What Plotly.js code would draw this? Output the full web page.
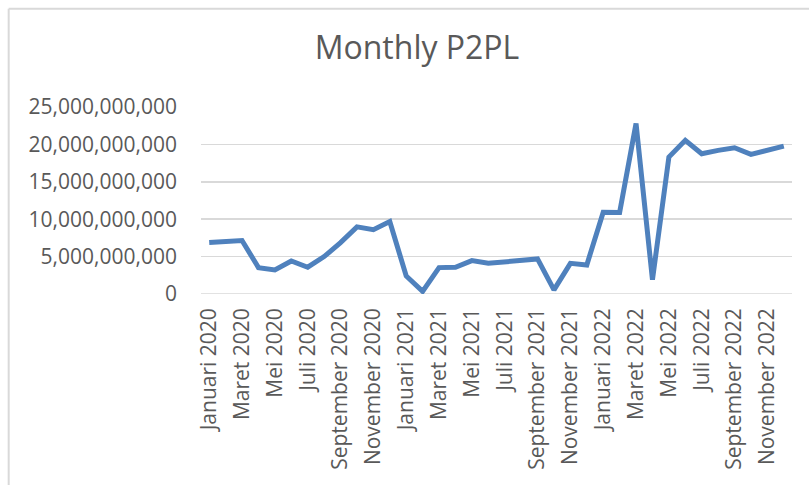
<!DOCTYPE html>
<html>
<head>
<meta charset="utf-8">
<script src="https://cdn.plot.ly/plotly-3.0.1.min.js"></script>
<style>
html,body{margin:0;padding:0;background:#fff;}
#chart{width:809px;height:485px;}
</style>
</head>
<body>
<div id="chart"></div>
<script>
const months = ["Januari","Februari","Maret","April","Mei","Juni","Juli","Agustus","September","Oktober","November","Desember"];
const years = [2020, 2021, 2022];
const categories = [];
years.forEach(y => months.forEach(m => categories.push(m + " " + y)));

const p2plValues = [
  6.87e9, 7.00e9, 7.15e9, 3.53e9, 3.21e9, 4.42e9, 3.58e9, 5.00e9, 6.87e9, 8.97e9, 8.60e9, 9.69e9,
  2.41e9, 0.35e9, 3.53e9, 3.58e9, 4.46e9, 4.10e9, 4.33e9, 4.46e9, 4.69e9, 0.55e9, 4.10e9, 3.88e9,
  10.94e9, 10.90e9, 22.80e9, 1.90e9, 18.30e9, 20.54e9, 18.75e9, 19.20e9, 19.55e9, 18.66e9, 19.20e9, 19.78e9
];

const xTickVals = categories.filter((c, i) => i % 2 === 0);
const yTickVals = [0, 5e9, 10e9, 15e9, 20e9, 25e9];

const textColor = "#595959";
const gridColor = "#D9D9D9";

const trace = {
  x: categories,
  y: p2plValues,
  type: "scatter",
  mode: "lines",
  line: {color: "#4F81BD", width: 5},
  hoverinfo: "x+y"
};

const layout = {
  width: 809,
  height: 485,
  paper_bgcolor: "#ffffff",
  plot_bgcolor: "#ffffff",
  margin: {l: 201, r: 17, t: 107, b: 191},
  showlegend: false,
  title: {
    text: "Monthly P2PL",
    font: {family: "Open Sans, sans-serif", size: 32, color: textColor},
    x: 417 / 809,
    xref: "container",
    xanchor: "center",
    y: 1 - 48 / 485,
    yref: "container",
    yanchor: "middle"
  },
  xaxis: {
    type: "category",
    tickmode: "array",
    tickvals: xTickVals,
    ticktext: xTickVals,
    tickangle: -90,
    tickfont: {family: "Open Sans, sans-serif", size: 21, color: textColor},
    showgrid: false,
    zeroline: false,
    showline: false,
    ticks: "",
    ticklabelstandoff: 9,
    range: [-0.5, 35.5]
  },
  yaxis: {
    range: [0, 25e9],
    tickmode: "array",
    tickvals: yTickVals,
    tickformat: ",d",
    tickfont: {family: "Open Sans, sans-serif", size: 21, color: textColor},
    showgrid: true,
    gridcolor: gridColor,
    gridwidth: 1.5,
    zeroline: false,
    showline: false,
    ticks: "",
    ticklabelstandoff: 23
  },
  shapes: [
    {type: "line", xref: "paper", yref: "paper", x0: -0.3254, x1: -0.3254, y0: 1.5257, y1: -1.2,
     line: {color: gridColor, width: 2}},
    {type: "line", xref: "paper", yref: "paper", x0: -0.3254, x1: 1.2, y0: 1.5257, y1: 1.5257,
     line: {color: gridColor, width: 2}},
    {type: "line", xref: "paper", yref: "y", x0: 0, x1: 1, y0: 0, y1: 0, layer: "below",
     line: {color: gridColor, width: 1.5}}
  ]
};

Plotly.newPlot("chart", [trace], layout, {displayModeBar: false, staticPlot: true});
</script>
</body>
</html>
